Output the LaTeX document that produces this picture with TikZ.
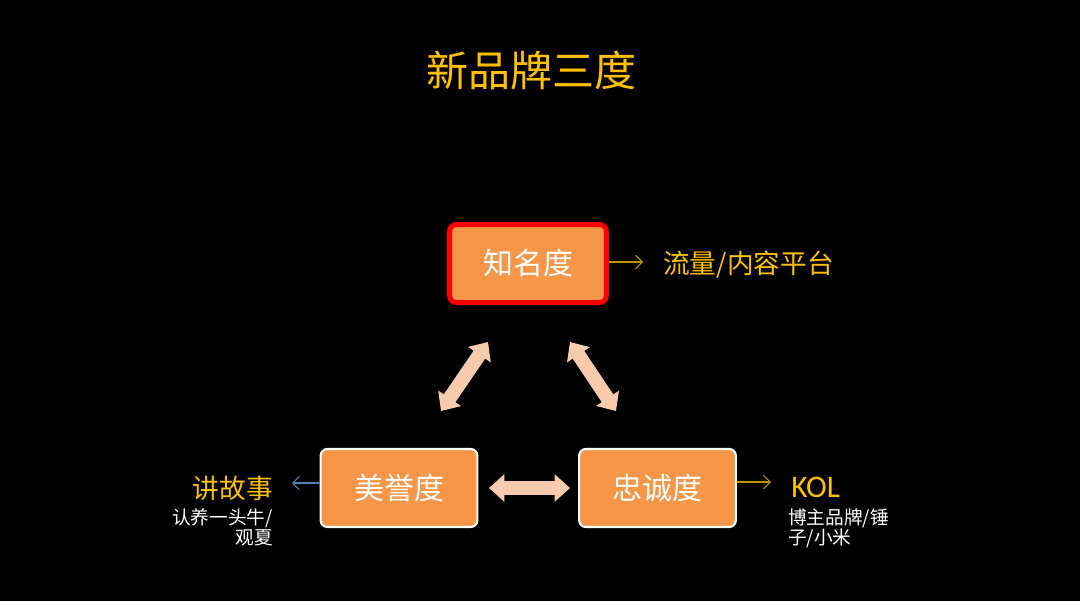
\documentclass[tikz,border=0pt]{standalone}
\usepackage{fontspec}
\setmainfont{Noto Sans CJK SC}
\newfontfamily\latinf{Carlito}
\usetikzlibrary{arrows.meta}
\definecolor{ttl}{HTML}{FFC000}
\definecolor{boxorange}{HTML}{F79646}
\definecolor{peach}{HTML}{F8CBAD}
\definecolor{goldline}{HTML}{BF9000}
\definecolor{blueline}{HTML}{4F81BD}
\begin{document}
\begin{tikzpicture}[x=0.75pt,y=-0.75pt,
  box/.style={rectangle, rounded corners=5pt, fill=boxorange, text=white,
    minimum width=117.5pt, minimum height=58.5pt, inner sep=0pt,
    font=\fontsize{22.5pt}{27pt}\selectfont},
  sidelabel/.style={inner sep=0pt, text=ttl, font=\fontsize{20pt}{24pt}\selectfont},
  smalltext/.style={inner sep=0pt, text=white, font=\fontsize{14pt}{15.5pt}\selectfont},
  thinarrow/.style={line width=0.8pt, -{Straight Barb[length=5pt,width=10pt]}},
  blockarrow/.style={draw=peach, line width=10.5pt,
    {Triangle[length=11.5pt,width=20pt]}-{Triangle[length=11.5pt,width=20pt]}}]
\fill[black] (0,0) rectangle (1080,601);
\useasboundingbox (0,0) rectangle (1080,601);

\node[inner sep=0pt, text=ttl, font=\fontsize{31.5pt}{36pt}\selectfont] (title) at (531,70) {新品牌三度};

\node[box, draw=red, line width=3.75pt] (fame) at (528,263.5) {知名度};
\node[box, draw=white, line width=1.6pt] (rep) at (399,488) {美誉度};
\node[box, draw=white, line width=1.6pt] (loy) at (657.5,488) {忠诚度};

% side labels
\node[sidelabel, anchor=west] (traffic) at (663,265) {流量/内容平台};
\node[sidelabel, anchor=east] (story) at (273,488) {讲故事};
\node[smalltext, anchor=north east, align=right] (storyex) at (273,508) {认养一头牛/\\观夏};
\node[sidelabel, anchor=west, font=\latinf\fontsize{23.5pt}{26pt}\selectfont] (kol) at (791,487) {KOL};
\node[smalltext, anchor=north west, align=left] (kolex) at (788,508) {博主品牌/锤\\子/小米};

% thin arrows
\coordinate (ta) at (643,262);
\coordinate (sa) at (292,483);
\coordinate (ka) at (771,482);
\draw[thinarrow, goldline] (fame.east |- ta) -- (ta);
\draw[thinarrow, blueline] (rep.west |- sa) -- (sa);
\draw[thinarrow, goldline] (loy.east |- ka) -- (ka);

% block double arrows
\coordinate (l1) at (441,411);
\coordinate (l2) at (488,342);
\coordinate (r1) at (570,342);
\coordinate (r2) at (616,411);
\coordinate (h1) at (489,488);
\coordinate (h2) at (570,488);
\draw[blockarrow] (l1) -- (l2);
\draw[blockarrow] (r1) -- (r2);
\draw[blockarrow] (h1) -- (h2);
\end{tikzpicture}
\end{document}
